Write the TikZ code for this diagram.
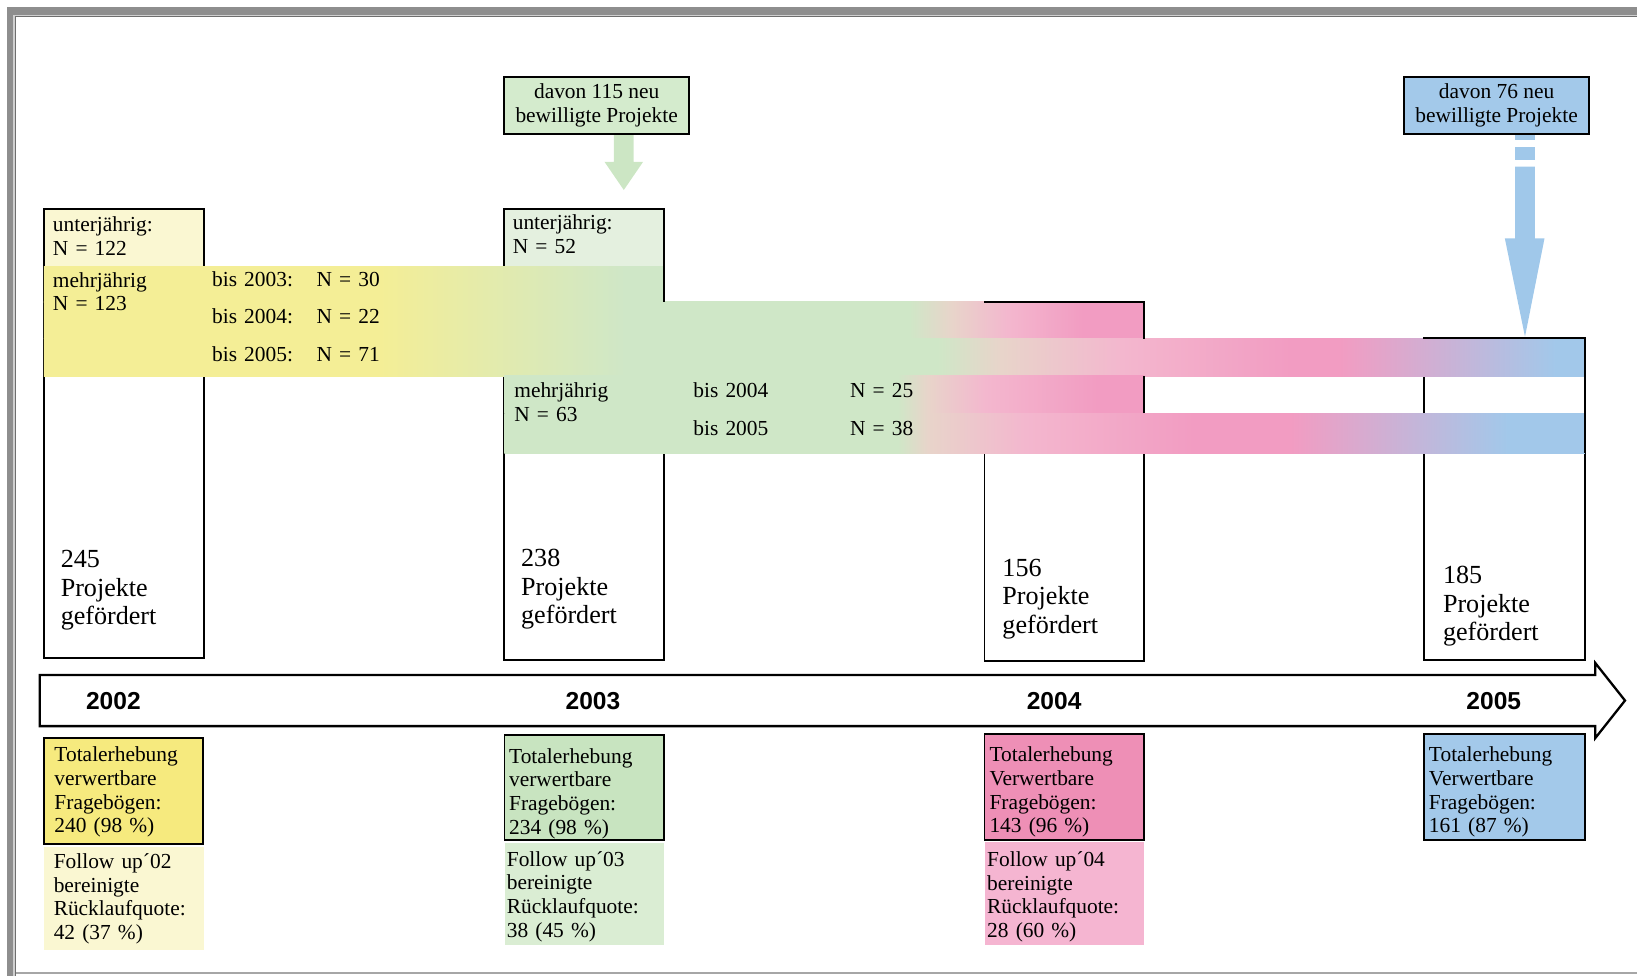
\documentclass[tikz,border=0pt]{standalone}
\usepackage{fontspec}
\setmainfont{Liberation Serif}
\newfontfamily\yearfont{Liberation Sans}
\usetikzlibrary{calc}
\definecolor{bandyellow}{HTML}{F4EE96}
\definecolor{bandgreen}{HTML}{CFE7C7}
\definecolor{bandbeige}{HTML}{E8D4CA}
\definecolor{bandlightpink}{HTML}{F3B7CE}
\definecolor{bandpink}{HTML}{F29CC2}
\definecolor{bandblue}{HTML}{A2C8EA}
\definecolor{paleyellow}{HTML}{FAF7D2}
\definecolor{palegreen}{HTML}{E4F0DF}
\definecolor{totyellow}{HTML}{F6EA7E}
\definecolor{totgreen}{HTML}{C8E4C0}
\definecolor{totpink}{HTML}{EE8FB6}
\definecolor{totblue}{HTML}{A3C9EA}
\definecolor{fupyellow}{HTML}{FAF7D2}
\definecolor{fupgreen}{HTML}{DAEDD3}
\definecolor{fuppink}{HTML}{F5B5D1}
\definecolor{topgreen}{HTML}{D4EBCD}
\definecolor{arrowgreen}{HTML}{CCE6C4}
\definecolor{arrowblue}{HTML}{A0C8EA}
\definecolor{framegray}{HTML}{8E8E8E}
\definecolor{framelight}{HTML}{D0D0D0}
\definecolor{framedark}{HTML}{6E6E6E}
\pgfdeclarehorizontalshading{rowA}{100bp}{color(0bp)=(bandyellow); color(35.91bp)=(bandyellow); color(43.87bp)=(bandgreen); color(100bp)=(bandgreen)}
\pgfdeclarehorizontalshading{rowB}{100bp}{color(0bp)=(bandyellow); color(35.91bp)=(bandyellow); color(43.87bp)=(bandgreen); color(53.08bp)=(bandgreen); color(54.47bp)=(bandbeige); color(56.27bp)=(bandlightpink); color(58.71bp)=(bandpink); color(100bp)=(bandpink)}
\pgfdeclarehorizontalshading{rowC}{100bp}{color(0bp)=(bandyellow); color(35.91bp)=(bandyellow); color(43.87bp)=(bandgreen); color(54bp)=(bandgreen); color(56.06bp)=(bandbeige); color(59.96bp)=(bandlightpink); color(65.45bp)=(bandpink); color(67.04bp)=(bandpink); color(74.05bp)=(bandblue); color(100bp)=(bandblue)}
\pgfdeclarehorizontalshading{rowD}{100bp}{color(0bp)=(bandgreen); color(52.7bp)=(bandgreen); color(53.69bp)=(bandbeige); color(55.55bp)=(bandlightpink); color(59.18bp)=(bandpink); color(100bp)=(bandpink)}
\pgfdeclarehorizontalshading{rowE}{100bp}{color(0bp)=(bandgreen); color(52.7bp)=(bandgreen); color(53.69bp)=(bandbeige); color(56.84bp)=(bandlightpink); color(62.3bp)=(bandpink); color(65.45bp)=(bandpink); color(72.5bp)=(bandblue); color(100bp)=(bandblue)}
\tikzset{
  boxline/.style={draw=black, line width=1.8},
  yearbox/.style={boxline, inner sep=0, minimum width=153},
  lbl/.style={inner sep=0, anchor=base west, text width=220, align=left, font=\fontsize{20.5}{22.7}\selectfont},
  big/.style={inner sep=0, anchor=base west, text width=200, align=left, font=\fontsize{25}{27.3}\selectfont},
  yr/.style={inner sep=0, anchor=base, font=\yearfont\bfseries\fontsize{23.5}{26}\selectfont},
  topbox/.style={boxline, inner sep=0, minimum width=177, minimum height=55, align=center, font=\fontsize{20.5}{22.7}\selectfont},
  totbox/.style={boxline, inner sep=0, minimum width=153, minimum height=101},
  fupbox/.style={draw=none, inner sep=0, minimum width=153, minimum height=98}
}
\newcommand\bandrow[6]{% shading, x1, x2, ytop, ybot
  \begin{scope}
  \clip (#2,#4) rectangle (#3,#5);
  \shade[shading=#1] (42,#4) rectangle (1518,#5);
  \end{scope}}
\begin{document}
\begin{tikzpicture}[x=1pt,y=-1pt]
\useasboundingbox (0,0) rectangle (1568,935);
% frame
\fill[framegray] (7,6.4) rectangle (1568,14.4);
\fill[framegray] (7,6.4) rectangle (12.8,935);
\fill[framelight] (12.8,14.4) rectangle (1568,15.3);
\fill[framelight] (12.8,14.4) rectangle (14.1,935);
\fill[framedark] (14.1,15.3) rectangle (1568,16.2);
\fill[framedark] (14.1,15.3) rectangle (15.3,935);
\fill[gray!70] (15.3,930.6) rectangle (1568,932.8);

% unterjaehrig fills
\fill[paleyellow] (42,200) rectangle (195,255);
\fill[palegreen] (483,200) rectangle (636,255);

% year boxes
\node[yearbox, minimum height=430] (b02) at (118.5,415) {};
\node[yearbox, minimum height=432] (b03) at (559.5,416) {};
\node[yearbox, minimum height=344] (b04) at (1019.5,461) {};
\node[yearbox, minimum width=154, minimum height=308] (b05) at (1441,478) {};

% bands (rows)
\bandrow{rowA}{42}{636}{255}{289.4}{}
\bandrow{rowB}{42}{1096}{289}{324.4}{}
\bandrow{rowC}{42}{1518}{324}{360.4}{}
\bandrow{rowD}{483}{1096}{360}{396.4}{}
\bandrow{rowE}{483}{1518}{396}{434}{}

% visible borders at band ends
\draw[boxline] (636,254) -- (636,289);
\draw[boxline, line cap=rect] (943,289) -- (1096,289) -- (1096,324);
\draw[boxline] (1096,360) -- (1096,396);
\draw[boxline, line cap=rect] (1364,324) -- (1518,324) -- (1518,360);
\draw[boxline] (1518,396) -- (1518,434);

% top boxes and arrows
\node[topbox, fill=topgreen] (t03) at (571.5,101) {davon 115 neu\\bewilligte Projekte};
\node[topbox, fill=totblue] (t05) at (1433.5,101.2) {davon 76 neu\\bewilligte Projekte};
\fill[arrowgreen] (588,129.5) -- (607,129.5) -- (607,155) -- (616,155) -- (597.5,182) -- (579,155) -- (588,155) -- cycle;
\fill[arrowblue] (1451.2,129.5) rectangle (1470.2,134.1);
\fill[arrowblue] (1451.2,140.5) rectangle (1470.2,153.3);
\fill[arrowblue] (1451.2,159.7) -- (1470.2,159.7) -- (1470.2,228.3) -- (1479.4,228.3) -- (1460.7,322.5) -- (1441.4,228.3) -- (1451.2,228.3) -- cycle;

% texts in upper area
\node[lbl] (u02) at (50.5,222) {unterjährig:\\N = 122};
\node[lbl] (m02) at (50.5,275) {mehrjährig\\N = 123};
\node[lbl] (b02a) at (203,274.6) {bis 2003:};
\node[lbl] (b02b) at (203,310.3) {bis 2004:};
\node[lbl] (b02c) at (203,346) {bis 2005:};
\node[lbl] (n02a) at (303,274.6) {N = 30};
\node[lbl] (n02b) at (303,310.3) {N = 22};
\node[lbl] (n02c) at (303,346) {N = 71};
\node[lbl] (u03) at (491,220) {unterjährig:\\N = 52};
\node[lbl] (m03) at (492.5,381) {mehrjährig\\N = 63};
\node[lbl] (b03a) at (664,381) {bis 2004};
\node[lbl] (b03b) at (664,416.7) {bis 2005};
\node[lbl] (n03a) at (814,381) {N = 25};
\node[lbl] (n03b) at (814,416.7) {N = 38};

\node[big] (p02) at (58,544) {245\\Projekte\\gefördert};
\node[big] (p03) at (499,543) {238\\Projekte\\gefördert};
\node[big] (p04) at (960,552) {156\\Projekte\\gefördert};
\node[big] (p05) at (1382,559) {185\\Projekte\\gefördert};

% timeline
\draw[line width=2.2, fill=white] (38,646.5) -- (1528,646.5) -- (1528,635) -- (1556.5,671) -- (1528,707) -- (1528,695.5) -- (38,695.5) -- cycle;
\node[yr] (y02) at (108.6,680) {2002};
\node[yr] (y03) at (568,680) {2003};
\node[yr] (y04) at (1009.7,680) {2004};
\node[yr] (y05) at (1430.8,680) {2005};

% bottom boxes
\node[totbox, fill=totyellow] (s02) at (118.3,757.5) {};
\node[fupbox, fill=fupyellow, minimum height=99] (f02) at (118.5,860.5) {};
\node[totbox, fill=totgreen] (s03) at (559.7,754.3) {};
\node[fupbox, fill=fupgreen, minimum height=97.5] (f03) at (559.8,856.5) {};
\node[totbox, fill=totpink] (s04) at (1019.5,753.8) {};
\node[fupbox, fill=fuppink, minimum height=98.5] (f04) at (1019.5,856) {};
\node[totbox, fill=totblue, minimum width=154] (s05) at (1441,753.9) {};

\node[lbl] (ts02) at (52,729.6) {Totalerhebung\\verwertbare\\Fragebögen:\\240 (98 \%)};
\node[lbl] (tf02) at (51.3,831.7) {Follow up´02\\bereinigte\\Rücklaufquote:\\42 (37 \%)};
\node[lbl] (ts03) at (487.5,731) {Totalerhebung\\verwertbare\\Fragebögen:\\234 (98 \%)};
\node[lbl] (tf03) at (485.3,829.5) {Follow up´03\\bereinigte\\Rücklaufquote:\\38 (45 \%)};
\node[lbl] (ts04) at (947.6,729.6) {Totalerhebung\\Verwertbare\\Fragebögen:\\143 (96 \%)};
\node[lbl] (tf04) at (945.4,830) {Follow up´04\\bereinigte\\Rücklaufquote:\\28 (60 \%)};
\node[lbl] (ts05) at (1368.5,729.6) {Totalerhebung\\Verwertbare\\Fragebögen:\\161 (87 \%)};
\end{tikzpicture}
\end{document}
